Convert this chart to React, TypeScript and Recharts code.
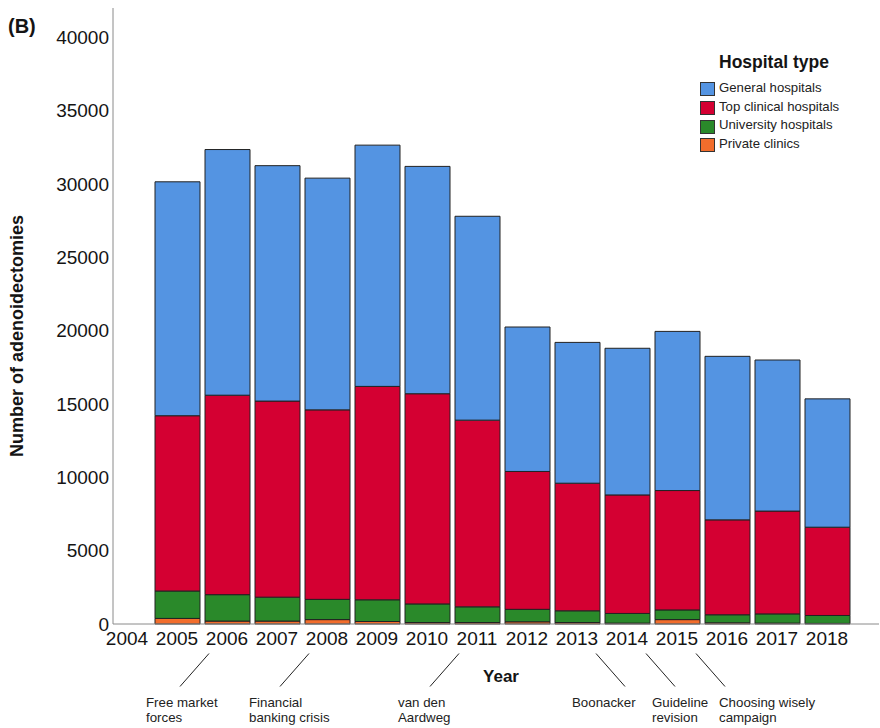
import { BarChart, Bar, XAxis, YAxis, Legend } from 'recharts'

// Adenoidectomies per year, split by hospital type
const years = [2005, 2006, 2007, 2008, 2009, 2010, 2011, 2012, 2013, 2014, 2015, 2016, 2017, 2018]
const privateClinics = [380, 200, 200, 300, 170, 100, 100, 150, 100, 60, 300, 80, 60, 40]
const universityHospitals = [1870, 1800, 1630, 1380, 1480, 1270, 1070, 850, 800, 660, 660, 550, 630, 540]
const topClinicalHospitals = [11950, 13600, 13370, 12920, 14550, 14330, 12730, 9400, 8700, 8080, 8140, 6470, 7010, 6020]
const generalHospitals = [15950, 16750, 16050, 15800, 16450, 15500, 13900, 9850, 9600, 10000, 10850, 11150, 10300, 8750]

const yearTicks = [2004, 2005, 2006, 2007, 2008, 2009, 2010, 2011, 2012, 2013, 2014, 2015, 2016, 2017, 2018]
const countTicks = [0, 5000, 10000, 15000, 20000, 25000, 30000, 35000, 40000]

// legend reads top to bottom, opposite to the stacking order
const legendOrder = ['General hospitals', 'Top clinical hospitals', 'University hospitals', 'Private clinics']

const events = [
  { year: 2006, lines: ['Free market', 'forces'] },
  { year: 2008, lines: ['Financial', 'banking crisis'] },
  { year: 2011, lines: ['van den', 'Aardweg'] },
  { year: 2013, lines: ['Boonacker'] },
  { year: 2014, lines: ['Guideline', 'revision'] },
  { year: 2015, lines: ['Choosing wisely', 'campaign'] },
]

const data = years.map((year, i) => ({
  year,
  private: privateClinics[i],
  university: universityHospitals[i],
  topClinical: topClinicalHospitals[i],
  general: generalHospitals[i],
}))

const BLUE = '#5494e2'
const RED = '#d40032'
const GREEN = '#2a892a'
const ORANGE = '#f26d2c'
const AXIS = '#8a8a8a'
const INK = '#141414'

// where each event caption starts, relative to its year tick
const captionDx: Record<number, number> = { 2006: -81, 2008: -78, 2011: -79, 2013: -5, 2014: 25, 2015: 42 }

function YearTick(props: any) {
  const { x, y, payload } = props
  const year = payload.value
  const ev = events.find((e) => e.year === year)
  const leftLean = year < 2012
  return (
    <g>
      <text x={x} y={y} dy="0.71em" textAnchor="middle" fontSize={19} fill={INK}>
        {year}
      </text>
      {ev && (
        <g>
          {leftLean ? (
            <line x1={x - 18} y1={y + 21.5} x2={x - 47} y2={y + 54.5} stroke="#222" strokeWidth={1} />
          ) : (
            <line x1={x + 19} y1={y + 21.5} x2={x + 48} y2={y + 54.5} stroke="#222" strokeWidth={1} />
          )}
          {ev.lines.map((t, i) => (
            <text key={t} x={x + captionDx[year]} y={y + 75 + i * 15} fontSize={13.3} fill="#222">
              {t}
            </text>
          ))}
        </g>
      )}
    </g>
  )
}

function HospitalLegend(props: any) {
  const items = [...(props.payload || [])].sort(
    (a: any, b: any) => legendOrder.indexOf(a.value) - legendOrder.indexOf(b.value)
  )
  return (
    <div style={{ fontFamily: 'inherit' }}>
      <div style={{ marginLeft: 19, fontSize: 17.5, fontWeight: 'bold', lineHeight: '20px', marginBottom: 8, color: INK }}>
        Hospital type
      </div>
      {items.map((it: any) => (
        <div key={it.value} style={{ display: 'flex', alignItems: 'center', height: 18.7 }}>
          <span
            style={{
              display: 'inline-block',
              width: 13,
              height: 12,
              background: it.color,
              border: '1px solid #333',
              marginRight: 4,
            }}
          />
          <span style={{ fontSize: 13.2, color: '#222', lineHeight: '14px', marginTop: -3 }}>{it.value}</span>
        </div>
      ))}
    </div>
  )
}

export default function App() {
  return (
    <div
      style={{
        position: 'absolute',
        left: 0,
        top: 0,
        width: 880,
        height: 728,
        background: '#fff',
        fontFamily: '"Liberation Sans", Arial, sans-serif',
      }}
    >
      <div style={{ position: 'absolute', left: 8, top: 15, fontSize: 20, fontWeight: 'bold', lineHeight: '22px', color: INK }}>
        (B)
      </div>
      <BarChart width={880} height={728} data={data} margin={{ top: 8, right: 1, bottom: 0, left: 0 }}>
        <XAxis
          dataKey="year"
          type="number"
          domain={[2003.72, 2019.04]}
          ticks={yearTicks}
          interval={0}
          height={104}
          tickSize={0}
          tickMargin={8}
          tickLine={false}
          axisLine={{ stroke: AXIS }}
          tick={<YearTick />}
          label={({ viewBox }: any) => (
            <text
              x={viewBox.x + viewBox.width / 2 + 5}
              y={viewBox.y + 58}
              textAnchor="middle"
              fontSize={17}
              fontWeight="bold"
              fill={INK}
            >
              Year
            </text>
          )}
        />
        <YAxis
          type="number"
          domain={[0, 42000]}
          ticks={countTicks}
          interval={0}
          width={113}
          tickSize={0}
          tickMargin={4}
          tickLine={false}
          axisLine={{ stroke: AXIS }}
          tick={{ fontSize: 19, fill: INK }}
          label={({ viewBox }: any) => {
            const cx = 17
            const cy = viewBox.y + viewBox.height / 2 + 20
            return (
              <text
                x={cx}
                y={cy}
                transform={`rotate(-90 ${cx} ${cy})`}
                textAnchor="middle"
                dominantBaseline="central"
                fontSize={18}
                fontWeight="bold"
                fill={INK}
              >
                Number of adenoidectomies
              </text>
            )
          }}
        />
        <Legend
          layout="horizontal"
          verticalAlign="middle"
          align="center"
          wrapperStyle={{ position: 'absolute', left: 700, top: 52, width: 180 }}
          content={<HospitalLegend />}
        />
        <Bar dataKey="private" name="Private clinics" stackId="a" fill={ORANGE} stroke="#222" strokeWidth={1} barSize={45} isAnimationActive={false} />
        <Bar dataKey="university" name="University hospitals" stackId="a" fill={GREEN} stroke="#222" strokeWidth={1} barSize={45} isAnimationActive={false} />
        <Bar dataKey="topClinical" name="Top clinical hospitals" stackId="a" fill={RED} stroke="#222" strokeWidth={1} barSize={45} isAnimationActive={false} />
        <Bar dataKey="general" name="General hospitals" stackId="a" fill={BLUE} stroke="#222" strokeWidth={1} barSize={45} isAnimationActive={false} />
      </BarChart>
    </div>
  )
}
